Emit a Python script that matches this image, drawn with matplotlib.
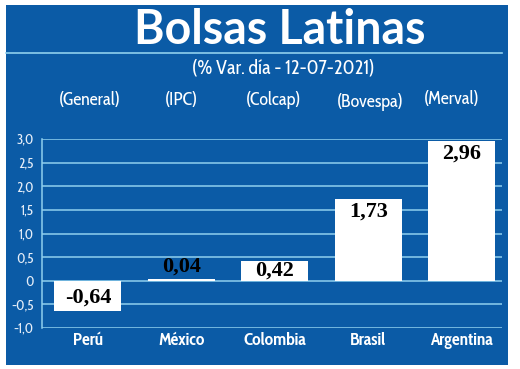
import matplotlib
matplotlib.use("Agg")
import matplotlib.pyplot as plt
from matplotlib.patches import Rectangle
from matplotlib.lines import Line2D

countries = ["Perú", "México", "Colombia", "Brasil", "Argentina"]
indices = ["(General)", "(IPC)", "(Colcap)", "(Bovespa)", "(Merval)"]
values = [-0.64, 0.04, 0.42, 1.73, 2.96]
value_labels = ["-0,64", "0,04", "0,42", "1,73", "2,96"]
yticks = [-1.0, -0.5, 0, 0.5, 1.0, 1.5, 2.0, 2.5, 3.0]
ytick_labels = ["-1,0", "-0,5", "0", "0,5", "1,0", "1,5", "2,0", "2,5", "3,0"]

W, H = 520, 369
BLUE = "#0b5ba6"
GRID = "#8fd0ee"
TITLE = ["Lato", "DejaVu Sans"]
COND = ["Cabin Condensed", "DejaVu Sans"]
SERIF = ["Liberation Serif", "DejaVu Serif"]

fig = plt.figure(figsize=(W / 100, H / 100), dpi=100, facecolor="white")

def fx(px):
    return px / W

def fy(py):
    return 1 - py / H

fig.patches.append(Rectangle((fx(6), fy(365)), fx(508) - fx(6), fy(5) - fy(365),
                             transform=fig.transFigure, facecolor=BLUE,
                             edgecolor="none", zorder=-5))
fig.lines.append(Line2D([fx(6), fx(502)], [fy(53), fy(53)], transform=fig.transFigure,
                        color=GRID, lw=1.2, zorder=-4))

fig.text(fx(280), fy(30), "Bolsas Latinas", color="white", fontsize=33.5,
         fontweight="bold", ha="center", va="center", family=TITLE)
fig.text(fx(283), fy(69), "(% Var. día - 12-07-2021)", color="white", fontsize=14,
         ha="center", va="center", family=COND)

ax = fig.add_axes([fx(42), fy(328), fx(502) - fx(42), fy(139) - fy(328)])
ax.set_facecolor("none")
x = list(range(len(countries)))
ax.bar(x, values, width=0.72, color="white", zorder=3)
ax.set_xlim(-0.49, 4.43)
ax.set_ylim(-1.0, 3.0)
ax.set_yticks(yticks)
ax.set_yticklabels(ytick_labels, family=COND, fontsize=10, color="#e6eef8")
ax.yaxis.grid(True, color=GRID, lw=1.1, zorder=1)
ax.set_axisbelow(True)
ax.tick_params(axis="y", length=0, pad=6)
ax.tick_params(axis="x", length=0, pad=3)
ax.set_xticks(x)
ax.set_xticklabels(countries, family=COND, fontsize=12.5, color="white", fontweight="bold")
for s in ["top", "right", "bottom"]:
    ax.spines[s].set_visible(False)
ax.spines["left"].set_color(GRID)
ax.spines["left"].set_linewidth(1.1)

for xi, v, lab in zip(x, values, value_labels):
    if v < 0.3:
        y, va = (v + 0.04 if v > 0 else v + 0.08), "bottom"
    elif v < 0.6:
        y, va = v / 2, "center"
    else:
        y, va = v - 0.06, "top"
    ax.text(xi, y, lab, ha="center", va=va, fontsize=16, fontweight="bold",
            family=SERIF, color="black", zorder=5)

idx_x = [90, 181, 274, 370, 452]
idx_y = [100, 100, 100, 102, 99]
for px, py, lab in zip(idx_x, idx_y, indices):
    fig.text(fx(px), fy(py), lab, color="white", fontsize=13, ha="center",
             va="center", family=COND)

fig.savefig("out.png", dpi=100, facecolor="white")
